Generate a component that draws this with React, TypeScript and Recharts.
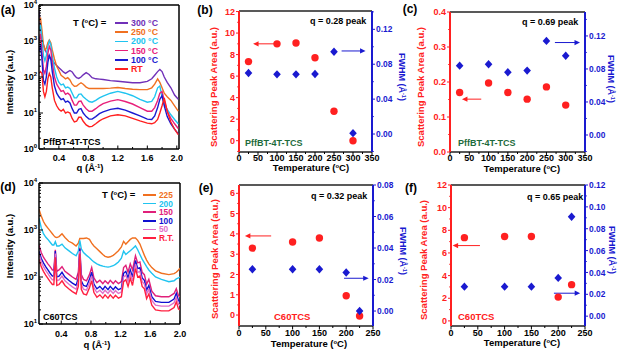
import React from "react";
import { LineChart, ComposedChart, Line, XAxis, YAxis, ReferenceLine } from "recharts";

const FONT = "'Liberation Sans', Arial, Helvetica, sans-serif";
const RED = "#ff2020";
const BLUE = "#1a1ad0";
const GREEN = "#1d6b3c";

// ---- (a) PffBT-4T-TCS line cuts, values are log10(intensity) ----
const qA = [0.13, 0.15, 0.17, 0.19, 0.21, 0.23, 0.25, 0.27, 0.29, 0.31, 0.34, 0.37, 0.4, 0.43, 0.46, 0.49, 0.52, 0.55, 0.58, 0.61, 0.64, 0.67, 0.7, 0.73, 0.77, 0.81, 0.85, 0.9, 0.95, 1.0, 1.1, 1.2, 1.3, 1.4, 1.5, 1.6, 1.66, 1.7, 1.74, 1.77, 1.8, 1.83, 1.87, 1.92, 1.97, 2.02];
const a300 = [3.85, 3.4, 3.05, 2.9, 2.78, 2.68, 2.6, 2.55, 2.5, 2.45, 2.38, 2.32, 2.26, 2.2, 2.14, 2.1, 2.14, 2.18, 2.14, 2.05, 1.98, 1.96, 2.0, 2.06, 2.12, 2.07, 1.98, 1.95, 1.94, 1.93, 1.9, 1.88, 1.86, 1.84, 1.84, 1.88, 1.95, 2.05, 2.15, 2.21, 2.15, 2.0, 1.85, 1.7, 1.5, 1.38];
const a250 = [3.55, 3.65, 3.3, 2.9, 2.75, 2.8, 2.95, 3.03, 2.95, 2.75, 2.5, 2.3, 2.18, 2.05, 2.0, 1.95, 1.98, 1.92, 1.8, 1.74, 1.75, 1.8, 1.84, 1.8, 1.72, 1.68, 1.68, 1.68, 1.68, 1.68, 1.69, 1.71, 1.68, 1.66, 1.65, 1.65, 1.7, 1.8, 1.95, 1.85, 1.7, 1.55, 1.45, 1.35, 1.2, 1.05];
const a200 = [3.3, 3.45, 3.1, 2.6, 2.45, 2.6, 2.85, 3.0, 2.9, 2.6, 2.25, 2.0, 1.85, 1.78, 1.8, 1.7, 1.72, 1.68, 1.55, 1.42, 1.42, 1.52, 1.53, 1.45, 1.38, 1.32, 1.3, 1.35, 1.42, 1.47, 1.55, 1.6, 1.55, 1.48, 1.38, 1.3, 1.32, 1.45, 1.7, 1.75, 1.45, 1.25, 1.1, 0.95, 0.82, 0.7];
const a150 = [3.0, 3.2, 2.7, 2.2, 2.1, 2.3, 2.65, 2.85, 2.75, 2.4, 2.0, 1.8, 1.7, 1.6, 1.62, 1.52, 1.55, 1.5, 1.35, 1.22, 1.22, 1.32, 1.33, 1.22, 1.12, 1.05, 1.05, 1.12, 1.2, 1.26, 1.33, 1.37, 1.32, 1.25, 1.15, 1.05, 1.05, 1.15, 1.35, 1.55, 1.6, 1.35, 1.05, 0.85, 0.7, 0.57];
const a100 = [2.7, 2.9, 2.5, 1.9, 1.8, 2.0, 2.4, 2.6, 2.5, 2.15, 1.75, 1.55, 1.45, 1.37, 1.4, 1.3, 1.33, 1.28, 1.12, 1.0, 1.0, 1.1, 1.12, 1.0, 0.9, 0.83, 0.83, 0.9, 0.98, 1.03, 1.1, 1.13, 1.08, 1.0, 0.92, 0.83, 0.82, 0.92, 1.15, 1.38, 1.48, 1.2, 0.9, 0.7, 0.55, 0.42];
const aRT = [2.1, 2.15, 2.1, 1.6, 1.45, 1.6, 1.95, 2.1, 2.0, 1.7, 1.35, 1.2, 1.1, 1.05, 1.1, 1.0, 1.03, 1.0, 0.85, 0.75, 0.77, 0.88, 0.88, 0.77, 0.67, 0.62, 0.63, 0.7, 0.78, 0.84, 0.92, 0.95, 0.92, 0.85, 0.78, 0.72, 0.7, 0.73, 0.82, 1.0, 1.2, 1.42, 1.05, 0.75, 0.55, 0.4];

// ---- (d) C60TCS line cuts, log10(intensity) ----
const qD = [0.1, 0.13, 0.16, 0.19, 0.22, 0.25, 0.28, 0.3, 0.32, 0.34, 0.37, 0.41, 0.45, 0.5, 0.55, 0.6, 0.63, 0.65, 0.67, 0.7, 0.74, 0.78, 0.81, 0.84, 0.88, 0.92, 0.96, 0.99, 1.03, 1.06, 1.1, 1.13, 1.17, 1.21, 1.24, 1.27, 1.3, 1.33, 1.36, 1.4, 1.43, 1.46, 1.49, 1.52, 1.55, 1.58, 1.62, 1.67, 1.75, 1.85, 1.92, 1.95, 1.98, 2.0];
const d225 = [3.44, 3.3, 3.18, 3.1, 3.04, 2.98, 2.92, 2.88, 2.85, 2.84, 2.86, 2.92, 2.84, 2.76, 2.72, 2.66, 2.72, 2.82, 2.82, 2.82, 2.83, 2.8, 2.72, 2.66, 2.6, 2.54, 2.48, 2.44, 2.42, 2.43, 2.46, 2.5, 2.56, 2.64, 2.76, 2.7, 2.75, 2.8, 2.83, 2.83, 2.78, 2.7, 2.58, 2.46, 2.36, 2.28, 2.2, 2.13, 2.08, 2.05, 2.07, 2.1, 2.15, 2.19];
const d200 = [3.25, 3.05, 2.92, 2.85, 2.8, 2.74, 2.68, 2.68, 2.75, 2.66, 2.66, 2.7, 2.62, 2.56, 2.5, 2.45, 2.55, 2.78, 2.6, 2.52, 2.46, 2.41, 2.36, 2.32, 2.28, 2.25, 2.23, 2.22, 2.21, 2.22, 2.24, 2.27, 2.32, 2.4, 2.55, 2.48, 2.52, 2.56, 2.6, 2.66, 2.58, 2.48, 2.38, 2.3, 2.22, 2.15, 2.08, 2.0, 1.95, 1.9, 1.92, 1.96, 1.98, 2.0];
const d150 = [2.68, 2.52, 2.42, 2.35, 2.28, 2.22, 2.15, 2.15, 2.58, 2.12, 2.15, 2.22, 2.12, 2.06, 2.0, 1.95, 2.1, 2.62, 2.05, 1.95, 1.92, 2.05, 2.2, 1.98, 1.88, 1.93, 1.86, 1.92, 1.86, 1.93, 1.86, 1.92, 1.86, 1.9, 2.2, 2.25, 2.1, 2.28, 2.15, 2.45, 2.3, 2.32, 2.1, 2.05, 1.85, 1.95, 1.7, 1.6, 1.58, 1.58, 1.65, 1.75, 1.6, 1.58];
const d100 = [2.55, 2.4, 2.3, 2.22, 2.15, 2.08, 2.02, 2.02, 2.55, 2.0, 2.02, 2.1, 2.0, 1.93, 1.87, 1.82, 1.98, 2.6, 1.92, 1.82, 1.8, 1.95, 2.1, 1.85, 1.75, 1.8, 1.73, 1.8, 1.73, 1.8, 1.73, 1.79, 1.73, 1.76, 2.08, 2.12, 1.98, 2.15, 2.0, 2.35, 2.18, 2.2, 1.98, 1.93, 1.72, 1.82, 1.58, 1.48, 1.46, 1.46, 1.53, 1.65, 1.5, 1.47];
const d50 = [2.48, 2.33, 2.22, 2.14, 2.07, 2.0, 1.94, 1.94, 2.5, 1.92, 1.94, 2.02, 1.92, 1.85, 1.79, 1.74, 1.9, 2.55, 1.84, 1.74, 1.72, 1.87, 2.02, 1.77, 1.67, 1.72, 1.65, 1.72, 1.65, 1.72, 1.65, 1.71, 1.65, 1.68, 2.0, 2.04, 1.9, 2.07, 1.92, 2.28, 2.1, 2.12, 1.9, 1.85, 1.64, 1.74, 1.5, 1.4, 1.38, 1.38, 1.45, 1.57, 1.42, 1.4];
const dRT = [2.38, 2.22, 2.12, 2.04, 1.97, 1.9, 1.84, 1.84, 2.42, 1.82, 1.84, 1.92, 1.82, 1.75, 1.69, 1.64, 1.8, 2.5, 1.74, 1.64, 1.62, 1.77, 1.92, 1.67, 1.57, 1.62, 1.55, 1.62, 1.55, 1.62, 1.55, 1.61, 1.55, 1.58, 1.9, 1.94, 1.8, 1.97, 1.82, 2.18, 2.0, 2.02, 1.8, 1.75, 1.54, 1.64, 1.4, 1.3, 1.28, 1.28, 1.35, 1.47, 1.32, 1.3];

// ---- peak fits ----
const tempB = [25, 100, 150, 200, 250, 300];
const areaB = [7.35, 9.0, 9.08, 7.7, 2.73, 0.0];
const fwhmB = [0.07, 0.0684, 0.0684, 0.0688, 0.0943, 0.001];

const tempC = [25, 100, 150, 200, 250, 300];
const areaC = [0.17, 0.197, 0.17, 0.151, 0.186, 0.134];
const fwhmC = [0.084, 0.0857, 0.076, 0.078, 0.114, 0.096];

const tempE = [25, 100, 150, 200, 225];
const areaE = [3.3, 3.6, 3.8, 0.95, -0.05];
const fwhmE = [0.0265, 0.0265, 0.0265, 0.0245, 0.0];

const tempF = [25, 100, 150, 200, 225];
const areaF = [7.35, 7.45, 7.45, 2.1, 3.2];
const fwhmF = [0.027, 0.027, 0.027, 0.035, 0.091];

const legendA = [
  { key: "a300", label: "300 °C", color: "#7030b8" },
  { key: "a250", label: "250 °C", color: "#f07020" },
  { key: "a200", label: "200 °C", color: "#20c4f0" },
  { key: "a150", label: "150 °C", color: "#e8207a" },
  { key: "a100", label: "100 °C", color: "#1a1ad0" },
  { key: "aRT", label: "RT", color: "#ff2020" },
];
const legendD = [
  { key: "d225", label: "225", color: "#f07020" },
  { key: "d200", label: "200", color: "#20c4f0" },
  { key: "d150", label: "150", color: "#e0207a" },
  { key: "d100", label: "100", color: "#1010d0" },
  { key: "d50", label: "50", color: "#e070c8" },
  { key: "dRT", label: "R.T.", color: "#ff2040" },
];

const dataA = qA.map((q, i) => ({ q, a300: a300[i], a250: a250[i], a200: a200[i], a150: a150[i], a100: a100[i], aRT: aRT[i] }));
const dataD = qD.map((q, i) => ({ q, d225: d225[i], d200: d200[i], d150: d150[i], d100: d100[i], d50: d50[i], dRT: dRT[i] }));
const toRows = (t: number[], a: number[], f: number[]) => t.map((x, i) => ({ t: x, area: a[i], fwhm: f[i] }));

// log axis ticks (decade + minor)
const logTicks = (lo: number, hi: number) => {
  const out: number[] = [];
  for (let n = lo; n < hi; n++) for (let k = 1; k < 10; k++) out.push(n + Math.log10(k));
  out.push(hi);
  return out;
};
const near = (list: number[], v: number) => list.some((l) => Math.abs(l - v) < 1e-6);

const logYTick = (p: any) => {
  const v = p.payload.value;
  const major = Math.abs(v - Math.round(v)) < 1e-6;
  return (
    <g>
      <line x1={p.x} x2={p.x + (major ? 4 : 2)} y1={p.y} y2={p.y} stroke="#000" />
      {major && (
        <text x={p.x - 2} y={p.y + 3} textAnchor="end" fontSize={9} fontWeight={700} fontFamily={FONT} fill="#000">
          10<tspan dy={-4} fontSize={6}>{Math.round(v)}</tspan>
        </text>
      )}
    </g>
  );
};

const xTick = (labels: number[], fmt: (v: number) => string, inward: boolean, dy: number) => (p: any) => {
  const v = p.payload.value;
  const major = near(labels, v);
  const len = major ? 3.5 : 2;
  return (
    <g>
      <line x1={p.x} x2={p.x} y1={p.y} y2={inward ? p.y - len : p.y + len} stroke="#000" />
      {major && (
        <text x={p.x} y={p.y + dy} textAnchor="middle" fontSize={9} fontWeight={700} fontFamily={FONT} fill="#000">
          {fmt(v)}
        </text>
      )}
    </g>
  );
};

const yTick = (labels: number[], fmt: (v: number) => string, color: string, side: "left" | "right") => (p: any) => {
  const v = p.payload.value;
  const major = near(labels, v);
  const len = major ? 3 : 1.8;
  const s = side === "left" ? -1 : 1;
  return (
    <g>
      <line x1={p.x} x2={p.x + s * len} y1={p.y} y2={p.y} stroke={color} />
      {major && (
        <text x={p.x + s * 4} y={p.y + 3.1} textAnchor={side === "left" ? "end" : "start"} fontSize={side === "left" ? 9 : 8.4} fontWeight={700} fontFamily={FONT} fill={color}>
          {fmt(v)}
        </text>
      )}
    </g>
  );
};

const redDot = (p: any) => <circle key={`r${p.index}`} cx={p.cx} cy={p.cy} r={3.7} fill={RED} />;
const blueDiamond = (p: any) => (
  <path key={`b${p.index}`} d={`M${p.cx},${p.cy - 4.2}L${p.cx + 3.8},${p.cy}L${p.cx},${p.cy + 4.2}L${p.cx - 3.8},${p.cy}Z`} fill={BLUE} />
);

const arrow = (color: string) => (p: any) => {
  const { x1, y1, x2, y2 } = p;
  const d = Math.sign(x2 - x1);
  return (
    <g>
      <line x1={x1} y1={y1} x2={x2 - d * 3} y2={y2} stroke={color} strokeWidth={1} />
      <path d={`M${x2},${y2}L${x2 - d * 5.5},${y2 - 2.6}L${x2 - d * 5.5},${y2 + 2.6}Z`} fill={color} />
    </g>
  );
};

type TxtProps = { x: number; y: number; children: React.ReactNode; color?: string; size?: number; rotate?: number; align?: "left" | "center" };
const Txt = ({ x, y, children, color = "#000", size = 9, rotate = 0, align = "center" }: TxtProps) => (
  <div
    style={{
      position: "absolute",
      left: x,
      top: y,
      transform: `translate(${align === "center" ? "-50%" : "0"},-50%) rotate(${rotate}deg)`,
      color,
      fontSize: size,
      fontWeight: 700,
      fontFamily: FONT,
      whiteSpace: "nowrap",
      lineHeight: 1,
    }}
  >
    {children}
  </div>
);

const sup = (s: string) => <sup style={{ fontSize: "0.62em", verticalAlign: "0.55em", lineHeight: 0 }}>{s}</sup>;

const Legend = ({ items, x, y, step, size }: { items: { label: string; color: string }[]; x: number; y: number; step: number; size: number }) => (
  <>
    {items.map((it, i) => (
      <React.Fragment key={it.label}>
        <div style={{ position: "absolute", left: x, top: y + i * step - 0.75, width: 13, height: 1.5, background: it.color }} />
        <Txt x={x + 16} y={y + i * step} color={it.color} size={size} align="left">
          {it.label}
        </Txt>
      </React.Fragment>
    ))}
  </>
);

type FitProps = {
  rows: { t: number; area: number; fwhm: number }[];
  w: number;
  h: number;
  top: number;
  lw: number;
  rw: number;
  xh: number;
  xMax: number;
  xdy: number;
  left: [number, number];
  leftTicks: number[];
  leftLabels: number[];
  leftFmt: (v: number) => string;
  right: [number, number];
  rightTicks: number[];
  rightLabels: number[];
  redArrow: [number, number, number];
  blueArrow: [number, number, number];
};

const FitChart = (p: FitProps) => {
  const xt: number[] = [];
  for (let v = 0; v <= p.xMax; v += 25) xt.push(v);
  const xl = xt.filter((v) => v % 50 === 0);
  return (
    <ComposedChart width={p.w} height={p.h} data={p.rows} margin={{ top: p.top, right: 0, bottom: 0, left: 0 }}>
      <XAxis
        dataKey="t"
        type="number"
        domain={[0, p.xMax]}
        ticks={xt}
        interval={0}
        allowDataOverflow
        height={p.xh}
        tickSize={0}
        tickMargin={0}
        tickLine={false}
        axisLine={{ stroke: "#222", strokeWidth: 1.5 }}
        tick={xTick(xl, (v) => String(v), false, p.xdy)}
      />
      <YAxis
        yAxisId="left"
        type="number"
        domain={p.left}
        ticks={p.leftTicks}
        interval={0}
        allowDataOverflow
        width={p.lw}
        tickSize={0}
        tickMargin={0}
        tickLine={false}
        axisLine={{ stroke: RED, strokeWidth: 2 }}
        tick={yTick(p.leftLabels, p.leftFmt, RED, "left")}
      />
      <YAxis
        yAxisId="right"
        orientation="right"
        type="number"
        domain={p.right}
        ticks={p.rightTicks}
        interval={0}
        allowDataOverflow
        width={p.rw}
        tickSize={0}
        tickMargin={0}
        tickLine={false}
        axisLine={{ stroke: BLUE, strokeWidth: 2 }}
        tick={yTick(p.rightLabels, (v) => v.toFixed(2), BLUE, "right")}
      />
      <ReferenceLine yAxisId="left" y={p.left[1]} stroke="#222" strokeWidth={1.5} />
      <ReferenceLine
        yAxisId="left"
        segment={[{ x: p.redArrow[0], y: p.redArrow[2] }, { x: p.redArrow[1], y: p.redArrow[2] }]}
        stroke={RED}
        shape={arrow(RED)}
      />
      <ReferenceLine
        yAxisId="right"
        segment={[{ x: p.blueArrow[0], y: p.blueArrow[2] }, { x: p.blueArrow[1], y: p.blueArrow[2] }]}
        stroke={BLUE}
        shape={arrow(BLUE)}
      />
      <Line yAxisId="left" dataKey="area" stroke="none" dot={redDot} activeDot={false} isAnimationActive={false} />
      <Line yAxisId="right" dataKey="fwhm" stroke="none" dot={blueDiamond} activeDot={false} isAnimationActive={false} />
    </ComposedChart>
  );
};

const range = (a: number, b: number, s: number) => {
  const out: number[] = [];
  for (let i = 0; a + i * s <= b + 1e-9; i++) out.push(+(a + i * s).toFixed(4));
  return out;
};

const pos = (left: number, top: number): React.CSSProperties => ({ position: "absolute", left, top });

export default function App() {
  const qTicksA = [0.2, 0.4, 0.6, 0.8, 1.0, 1.2, 1.4, 1.6, 1.8, 2.0];
  const qLabels = [0.4, 0.8, 1.2, 1.6, 2.0];
  return (
    <div style={{ position: "absolute", left: 0, top: 0, width: 618, height: 352, background: "#fff", overflow: "hidden", fontFamily: FONT }}>
      {/* (a) */}
      <div style={pos(0, 0)}>
        <LineChart width={200} height={176} data={dataA} margin={{ top: 5, right: 21, bottom: 0, left: 0 }}>
          <XAxis dataKey="q" type="number" domain={[0.13, 2.03]} ticks={qTicksA} interval={0} allowDataOverflow height={27} tickSize={0} tickMargin={0} tickLine={false} axisLine={{ stroke: "#000", strokeWidth: 1.5 }} tick={xTick(qLabels, (v) => v.toFixed(1), true, 11.5)} />
          <YAxis type="number" domain={[0, 4]} ticks={logTicks(0, 4)} interval={0} allowDataOverflow width={39} tickSize={0} tickMargin={0} tickLine={false} axisLine={{ stroke: "#000", strokeWidth: 1.5 }} tick={logYTick} />
          <ReferenceLine y={4} stroke="#000" strokeWidth={1.5} />
          <ReferenceLine x={2.03} stroke="#000" strokeWidth={1.5} />
          {legendA.map((s) => (
            <Line key={s.key} dataKey={s.key} type="linear" stroke={s.color} strokeWidth={1.4} dot={false} activeDot={false} isAnimationActive={false} />
          ))}
        </LineChart>
      </div>
      {/* (d) */}
      <div style={pos(0, 176)}>
        <LineChart width={200} height={176} data={dataD} margin={{ top: 7, right: 20, bottom: 0, left: 0 }}>
          <XAxis dataKey="q" type="number" domain={[0.1, 2.0]} ticks={qTicksA} interval={0} allowDataOverflow height={28} tickSize={0} tickMargin={0} tickLine={false} axisLine={{ stroke: "#000", strokeWidth: 1.5 }} tick={xTick(qLabels, (v) => v.toFixed(1), true, 12.5)} />
          <YAxis type="number" domain={[1, 4]} ticks={logTicks(1, 4)} interval={0} allowDataOverflow width={39} tickSize={0} tickMargin={0} tickLine={false} axisLine={{ stroke: "#000", strokeWidth: 1.5 }} tick={logYTick} />
          <ReferenceLine y={4} stroke="#000" strokeWidth={1.5} />
          <ReferenceLine x={2.0} stroke="#000" strokeWidth={1.5} />
          {legendD.map((s) => (
            <Line key={s.key} dataKey={s.key} type="linear" stroke={s.color} strokeWidth={1.4} dot={false} activeDot={false} isAnimationActive={false} />
          ))}
        </LineChart>
      </div>
      {/* (b) */}
      <div style={pos(200, 0)}>
        <FitChart rows={toRows(tempB, areaB, fwhmB)} w={210} h={176} top={11} lw={39} rw={38} xh={24} xMax={350} xdy={8.5}
          left={[-1.05, 12.05]} leftTicks={range(-1, 12, 1)} leftLabels={range(0, 12, 2)} leftFmt={(v) => String(v)}
          right={[-0.0206, 0.141]} rightTicks={range(-0.02, 0.14, 0.02)} rightLabels={[0, 0.04, 0.08, 0.12]}
          redArrow={[95, 37, 9.0]} blueArrow={[270, 333, 0.0952]} />
      </div>
      {/* (c) */}
      <div style={pos(405, 0)}>
        <FitChart rows={toRows(tempC, areaC, fwhmC)} w={213} h={176} top={12} lw={45} rw={33} xh={24} xMax={350} xdy={8.5}
          left={[0, 0.4]} leftTicks={range(0, 0.4, 0.05)} leftLabels={[0, 0.1, 0.2, 0.3, 0.4]} leftFmt={(v) => v.toFixed(1)}
          right={[-0.0206, 0.149]} rightTicks={range(-0.02, 0.14, 0.02)} rightLabels={[0, 0.04, 0.08, 0.12]}
          redArrow={[81, 31, 0.151]} blueArrow={[272, 337, 0.112]} />
      </div>
      {/* (e) */}
      <div style={pos(200, 176)}>
        <FitChart rows={toRows(tempE, areaE, fwhmE)} w={210} h={176} top={9} lw={39} rw={37} xh={26} xMax={250} xdy={10}
          left={[-0.54, 6.41]} leftTicks={range(0, 6, 0.5)} leftLabels={range(0, 6, 1)} leftFmt={(v) => String(v)}
          right={[-0.0095, 0.08]} rightTicks={range(0, 0.08, 0.01)} rightLabels={[0, 0.02, 0.04, 0.06, 0.08]}
          redArrow={[60, 11, 3.9]} blueArrow={[196, 242, 0.0208]} />
      </div>
      {/* (f) */}
      <div style={pos(405, 176)}>
        <FitChart rows={toRows(tempF, areaF, fwhmF)} w={213} h={176} top={9} lw={46} rw={33} xh={26} xMax={250} xdy={10}
          left={[-0.45, 12]} leftTicks={range(0, 12, 1)} leftLabels={range(0, 12, 2)} leftFmt={(v) => String(v)}
          right={[-0.009, 0.12]} rightTicks={range(0, 0.12, 0.01)} rightLabels={range(0, 0.12, 0.02)}
          redArrow={[54, 3, 6.65]} blueArrow={[192, 241, 0.021]} />
      </div>

      {/* panel letters */}
      <Txt x={8} y={10} size={12}>(a)</Txt>
      <Txt x={205} y={10} size={12}>(b)</Txt>
      <Txt x={410} y={9} size={12}>(c)</Txt>
      <Txt x={8} y={187} size={12}>(d)</Txt>
      <Txt x={206} y={188} size={12}>(e)</Txt>
      <Txt x={411} y={188} size={12}>(f)</Txt>

      {/* (a) texts */}
      <Txt x={10} y={82} rotate={-90} size={9.5}>Intensity (a.u.)</Txt>
      <Txt x={90} y={168} size={9.5}>q (Å{sup("-1")})</Txt>
      <Txt x={73} y={23} size={9.5} align="left">T ({sup("o")}C) =</Txt>
      <Legend items={legendA} x={115} y={23} step={9.2} size={8.8} />
      <Txt x={43} y={142} size={9} align="left">PffBT-4T-TCS</Txt>

      {/* (d) texts */}
      <Txt x={10} y={246} rotate={-90} size={9.5}>Intensity (a.u.)</Txt>
      <Txt x={97} y={345} size={9.5}>q (Å{sup("-1")})</Txt>
      <Txt x={102} y={195} size={9.5} align="left">T ({sup("o")}C) =</Txt>
      <Legend items={legendD} x={143} y={195} step={8.6} size={8.3} />
      <Txt x={43} y={317} size={9} align="left">C60TCS</Txt>

      {/* (b) texts */}
      <Txt x={214} y={87} rotate={-90} size={9.5} color={RED}>Scattering Peak Area (a.u.)</Txt>
      <Txt x={401} y={77} rotate={90} size={9} color={BLUE}>FWHM (Å{sup("-1")})</Txt>
      <Txt x={311} y={168} size={9.5}>Temperature ({sup("o")}C)</Txt>
      <Txt x={310} y={21} size={9} align="left">q = 0.28 peak</Txt>
      <Txt x={245} y={143} size={9} align="left" color={GREEN}>PffBT-4T-TCS</Txt>

      {/* (c) texts */}
      <Txt x={421} y={87} rotate={-90} size={9.5} color={RED}>Scattering Peak Area (a.u.)</Txt>
      <Txt x={610} y={79} rotate={90} size={9} color={BLUE}>FWHM (Å{sup("-1")})</Txt>
      <Txt x={522} y={169} size={9.5}>Temperature ({sup("o")}C)</Txt>
      <Txt x={522} y={22} size={9} align="left">q = 0.69 peak</Txt>
      <Txt x={458} y={143} size={9} align="left" color={GREEN}>PffBT-4T-TCS</Txt>

      {/* (e) texts */}
      <Txt x={215} y={259} rotate={-90} size={9.5} color={RED}>Scattering Peak Area (a.u.)</Txt>
      <Txt x={402} y={251} rotate={90} size={9} color={BLUE}>FWHM (Å{sup("-1")})</Txt>
      <Txt x={309} y={344} size={9.5}>Temperature ({sup("o")}C)</Txt>
      <Txt x={311} y={196} size={9} align="left">q = 0.32 peak</Txt>
      <Txt x={274} y={317} size={9.5} align="left" color={RED}>C60TCS</Txt>

      {/* (f) texts */}
      <Txt x={424} y={260} rotate={-90} size={9.5} color={RED}>Scattering Peak Area (a.u.)</Txt>
      <Txt x={611} y={250} rotate={90} size={9} color={BLUE}>FWHM (Å{sup("-1")})</Txt>
      <Txt x={522} y={343} size={9.5}>Temperature ({sup("o")}C)</Txt>
      <Txt x={527} y={197} size={9} align="left">q = 0.65 peak</Txt>
      <Txt x={458} y={317} size={9.5} align="left" color={RED}>C60TCS</Txt>
    </div>
  );
}
